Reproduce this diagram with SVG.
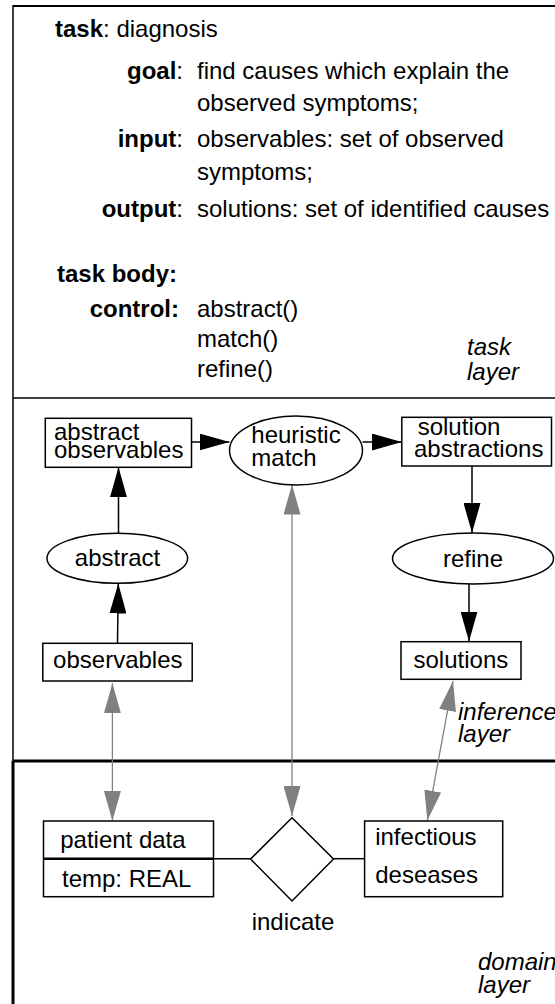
<svg xmlns="http://www.w3.org/2000/svg" width="555" height="1004" viewBox="0 0 555 1004">
<defs>
<style>
text{font-family:"Liberation Sans",Arial,Helvetica,sans-serif;font-size:24px;fill:#000}
.b{font-weight:bold}
.i{font-style:italic}
.box{fill:#fff;stroke:#000;stroke-width:1.5}
.frame{fill:none;stroke:#000}
.blk{stroke:#000;stroke-width:1.5;fill:none}
.gry{stroke:#808080;stroke-width:1.3;fill:none}
</style>
<marker id="ab" viewBox="0 0 30 17" refX="30" refY="8.5" markerWidth="30" markerHeight="17" markerUnits="userSpaceOnUse" orient="auto"><path d="M0,0 L30,8.5 L0,17 z" fill="#000"/></marker>
<marker id="ag" viewBox="0 0 30 17" refX="30" refY="8.5" markerWidth="30" markerHeight="17" markerUnits="userSpaceOnUse" orient="auto-start-reverse"><path d="M0,0 L30,8.5 L0,17 z" fill="#808080"/></marker>
</defs>
<rect width="555" height="1004" fill="#fff"/>
<g id="frame">
<line class="frame" x1="13" y1="6" x2="555" y2="6" stroke-width="2"/>
<line class="frame" x1="13" y1="5" x2="13" y2="761" stroke-width="1.5"/>
<line class="frame" x1="13" y1="398" x2="555" y2="398" stroke-width="1.5"/>
<line class="frame" x1="13" y1="761" x2="555" y2="761" stroke-width="3"/>
<line class="frame" x1="13" y1="761" x2="13" y2="1004" stroke-width="3"/>
</g>
<g id="task-layer">
<text x="55" y="37"><tspan class="b">task</tspan>: diagnosis</text>
<text x="183" y="79" text-anchor="end"><tspan class="b">goal</tspan>:</text>
<text x="197" y="79">find causes which explain the</text>
<text x="197" y="111">observed symptoms;</text>
<text x="183" y="147" text-anchor="end"><tspan class="b">input</tspan>:</text>
<text x="197" y="147">observables: set of observed</text>
<text x="197" y="180">symptoms;</text>
<text x="183" y="217" text-anchor="end"><tspan class="b">output</tspan>:</text>
<text x="197" y="217">solutions: set of identified causes</text>
<text x="57" y="282" class="b">task body:</text>
<text x="179" y="317" text-anchor="end" class="b">control:</text>
<text x="197" y="317">abstract()</text>
<text x="197" y="347">match()</text>
<text x="197" y="377">refine()</text>
<text x="467" y="355" class="i">task</text>
<text x="467" y="380" class="i">layer</text>
</g>
<g id="connectors">
<line class="blk" x1="191.5" y1="442" x2="229.5" y2="442" marker-end="url(#ab)"/>
<line class="blk" x1="362.5" y1="442" x2="401.8" y2="442" marker-end="url(#ab)"/>
<line class="blk" x1="118.5" y1="533.3" x2="118.5" y2="467.3" marker-end="url(#ab)"/>
<line class="blk" x1="117.5" y1="643" x2="118.3" y2="583.5" marker-end="url(#ab)"/>
<line class="blk" x1="472" y1="466" x2="472" y2="533" marker-end="url(#ab)"/>
<line class="blk" x1="469" y1="584" x2="469" y2="641.5" marker-end="url(#ab)"/>
<line class="gry" x1="112.4" y1="683.3" x2="112.4" y2="821" marker-start="url(#ag)" marker-end="url(#ag)"/>
<line class="gry" x1="292" y1="484.5" x2="292" y2="816" marker-start="url(#ag)" marker-end="url(#ag)"/>
<line class="gry" x1="453" y1="681" x2="427.3" y2="820.5" marker-start="url(#ag)" marker-end="url(#ag)"/>
<line class="blk" x1="213.5" y1="858.7" x2="250.6" y2="858.7" stroke-width="1.3"/>
<line class="blk" x1="333.5" y1="858.7" x2="364.6" y2="858.7" stroke-width="1.3"/>
</g>
<g id="abstract-observables">
<rect class="box" x="45.3" y="418.3" width="146.2" height="49"/>
<text x="54" y="439.5">abstract</text>
<text x="54" y="458">observables</text>
</g>
<g id="heuristic-match">
<ellipse class="box" cx="296" cy="450.5" rx="66.5" ry="34.5"/>
<text x="251.3" y="443.3">heuristic</text>
<text x="251.3" y="466">match</text>
</g>
<g id="solution-abstractions">
<rect class="box" x="401.8" y="417.3" width="149.7" height="48.7"/>
<text x="417.7" y="434.5">solution</text>
<text x="414" y="456.7">abstractions</text>
</g>
<g id="abstract">
<ellipse class="box" cx="117.3" cy="558.3" rx="70.3" ry="25"/>
<text x="117.5" y="566" text-anchor="middle">abstract</text>
</g>
<g id="refine">
<ellipse class="box" cx="473" cy="558.5" rx="80.5" ry="25.5"/>
<text x="473" y="566.5" text-anchor="middle">refine</text>
</g>
<g id="observables">
<rect class="box" x="42.8" y="643.3" width="149.4" height="37.7"/>
<text x="53.1" y="667.7">observables</text>
</g>
<g id="solutions">
<rect class="box" x="401" y="641.7" width="120" height="37.6"/>
<text x="413.5" y="668.3">solutions</text>
</g>
<g id="inference-label">
<text x="458" y="720" class="i">inference</text>
<text x="458" y="742" class="i">layer</text>
</g>
<g id="patient-data">
<rect class="box" x="43.5" y="821" width="170" height="75.7"/>
<line x1="43.5" y1="858.7" x2="213.5" y2="858.7" stroke="#000" stroke-width="2.5"/>
<text x="60.2" y="848.3">patient data</text>
<text x="62" y="886.7">temp: REAL</text>
</g>
<g id="indicate">
<polygon class="box" points="292,817.7 333.5,859 292,901 250.6,859"/>
<text x="293" y="930" text-anchor="middle">indicate</text>
</g>
<g id="infectious-deseases">
<rect class="box" x="364.6" y="821" width="138.1" height="75.7"/>
<text x="375.2" y="845">infectious</text>
<text x="375.2" y="883.3">deseases</text>
</g>
<g id="domain-label">
<text x="478" y="970" class="i">domain</text>
<text x="478" y="992.7" class="i">layer</text>
</g>
</svg>
